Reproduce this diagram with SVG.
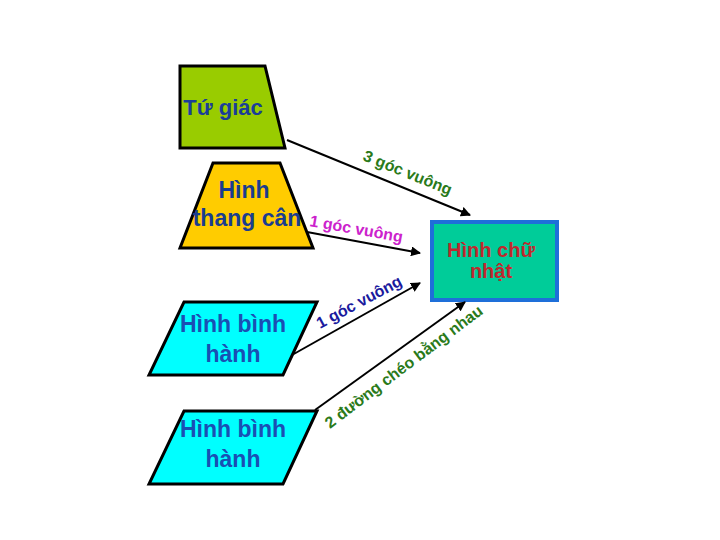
<svg xmlns="http://www.w3.org/2000/svg" width="720" height="540" viewBox="0 0 720 540">
<style>
.shape{stroke:#000;stroke-width:3;stroke-linejoin:miter}
.t{font-family:"Liberation Sans",Arial,sans-serif;font-weight:bold;text-anchor:middle}
.lbl{font-family:"Liberation Sans",Arial,sans-serif;font-weight:bold;font-size:16px}
.conn{stroke:#000;stroke-width:2;fill:none;marker-end:url(#ah)}
</style>
<defs>
<marker id="ah" viewBox="0 0 10 10" refX="9" refY="5" markerWidth="5" markerHeight="5" orient="auto" markerUnits="strokeWidth">
<path d="M0,0 L10,5 L0,10 z" fill="#000"/>
</marker>
</defs>
<rect width="720" height="540" fill="#fff"/>
<g id="tu-giac">
<polygon class="shape" points="180,66 265,66 285,148 180,148" fill="#99cc00"/>
<text class="t" x="223" y="115" font-size="22" fill="#1a3d99">Tứ giác</text>
</g>
<g id="hinh-thang-can">
<polygon class="shape" points="213,163 280,163 313,248 180,248" fill="#ffcc00"/>
<text class="t" x="244" y="198" font-size="23" fill="#1a3d8f">Hình</text>
<text class="t" x="247" y="226" font-size="23" fill="#1a3d8f">thang cân</text>
</g>
<g id="hinh-binh-hanh-1">
<polygon class="shape" points="184,302 317,302 283,375 149,375" fill="#00ffff"/>
<text class="t" x="233" y="332" font-size="23" fill="#1a4fb3">Hình bình</text>
<text class="t" x="233" y="362" font-size="23" fill="#1a4fb3">hành</text>
</g>
<g id="hinh-binh-hanh-2">
<polygon class="shape" points="184,411 317,411 283,484 149,484" fill="#00ffff"/>
<text class="t" x="233" y="437" font-size="23" fill="#1a4fb3">Hình bình</text>
<text class="t" x="233" y="467" font-size="23" fill="#1a4fb3">hành</text>
</g>
<g id="hinh-chu-nhat">
<rect x="432" y="222" width="125" height="78" fill="#00cc99" stroke="#1e6fd9" stroke-width="4"/>
<text class="t" x="491" y="257" font-size="20" fill="#c0272d">Hình chữ</text>
<text class="t" x="491" y="278" font-size="20" fill="#c0272d">nhật</text>
</g>
<g id="connectors">
<line class="conn" x1="287" y1="140" x2="470" y2="215"/>
<line class="conn" x1="307" y1="232" x2="420" y2="253"/>
<line class="conn" x1="292" y1="355" x2="420" y2="283"/>
<line class="conn" x1="315" y1="410" x2="465" y2="302"/>
<text class="lbl" fill="#2a7a1a" transform="translate(362,160) rotate(22)">3 góc vuông</text>
<text class="lbl" fill="#cc22cc" transform="translate(309,226) rotate(10)">1 góc vuông</text>
<text class="lbl" fill="#1a1a9e" transform="translate(320,329) rotate(-28)">1 góc vuông</text>
<text class="lbl" fill="#2a7a1a" transform="translate(330,429) rotate(-37)">2 đường chéo bằng nhau</text>
</g>
</svg>
